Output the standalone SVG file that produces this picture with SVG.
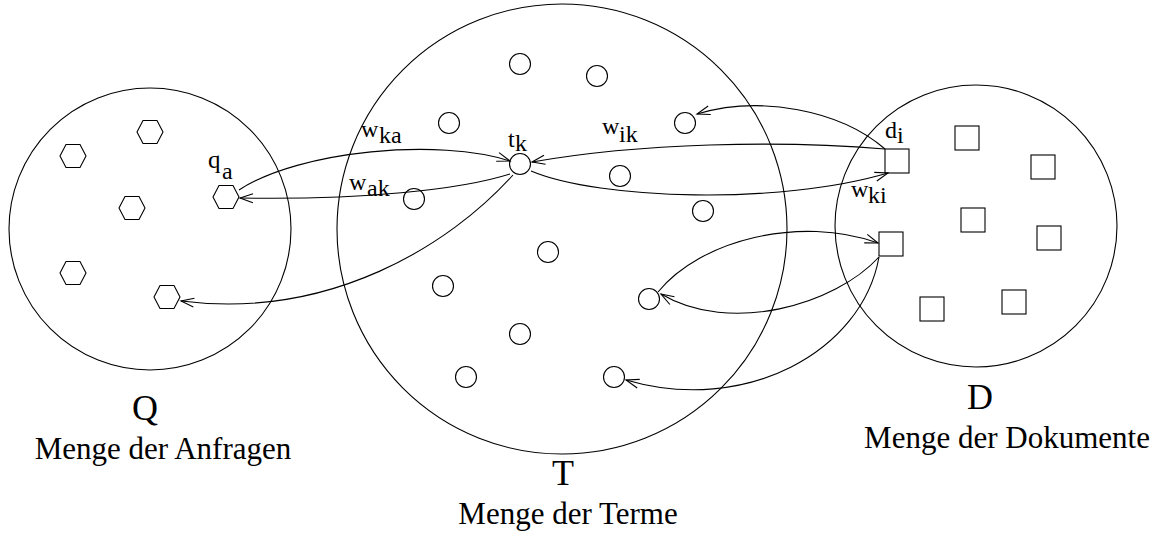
<svg xmlns="http://www.w3.org/2000/svg" xmlns:xlink="http://www.w3.org/1999/xlink" width="1160" height="541" viewBox="0 0 1160 541">
<style>
  .set { fill: none; stroke: #000; stroke-width: 1.1; }
  .el { fill: #fff; stroke: #000; stroke-width: 1.1; }
  .conn { fill: none; stroke: #000; stroke-width: 1.1; marker-end: url(#arr); }
  text { font-family: "Liberation Serif", "Times New Roman", serif; fill: #000; }
  .lbl { font-size: 24px; }
  .big { font-size: 36px; text-anchor: middle; }
  .cap { font-size: 31px; text-anchor: middle; }
</style>
<defs>
  <marker id="arr" markerUnits="userSpaceOnUse" markerWidth="14" markerHeight="10" refX="13" refY="4.5" orient="auto" overflow="visible">
    <path d="M0,0 L13,4.5 L0,9" fill="none" stroke="#000" stroke-width="1.1"/>
  </marker>
  <polygon id="hex" points="-13,0 -7,-11.5 7,-11.5 13,0 7,11.5 -7,11.5" class="el"/>
</defs>
<rect width="1160" height="541" fill="#fff"/>

<g id="set-Q">
  <circle class="set" cx="150" cy="229" r="141"/>
  <text class="big" x="145" y="420">Q</text>
  <text class="cap" x="163" y="459">Menge der Anfragen</text>
</g>
<g id="set-T">
  <circle class="set" cx="562" cy="229" r="225"/>
  <text class="big" x="563" y="485">T</text>
  <text class="cap" x="568" y="524">Menge der Terme</text>
</g>
<g id="set-D">
  <circle class="set" cx="976" cy="226" r="141"/>
  <text class="big" x="980" y="409">D</text>
  <text class="cap" x="1007" y="448">Menge der Dokumente</text>
</g>

<g id="queries">
  <g id="q1"><use xlink:href="#hex" x="150" y="132"/></g>
  <g id="q2"><use xlink:href="#hex" x="73" y="156"/></g>
  <g id="q3"><use xlink:href="#hex" x="132" y="208"/></g>
  <g id="qa"><use xlink:href="#hex" x="226" y="197"/>
    <text class="lbl" x="208" y="168" style="font-size:25px">q</text><text class="lbl" x="222" y="179">a</text></g>
  <g id="q5"><use xlink:href="#hex" x="73" y="273"/></g>
  <g id="q6"><use xlink:href="#hex" x="167" y="297"/></g>
</g>

<g id="terms">
  <g id="t1"><circle class="el" cx="520" cy="64" r="10.5"/></g>
  <g id="t2"><circle class="el" cx="597" cy="76" r="10.5"/></g>
  <g id="t3"><circle class="el" cx="449" cy="123" r="10.5"/></g>
  <g id="t4"><circle class="el" cx="685" cy="123" r="10.5"/></g>
  <g id="tk"><circle class="el" cx="520" cy="164" r="10.5"/>
    <text class="lbl" x="508" y="147">t</text><text class="lbl" x="515" y="151">k</text></g>
  <g id="t6"><circle class="el" cx="620" cy="176" r="10.5"/></g>
  <g id="t7"><circle class="el" cx="414" cy="199" r="10.5"/></g>
  <g id="t8"><circle class="el" cx="703" cy="211" r="10.5"/></g>
  <g id="t9"><circle class="el" cx="548" cy="252" r="10.5"/></g>
  <g id="t10"><circle class="el" cx="443" cy="286" r="10.5"/></g>
  <g id="t11"><circle class="el" cx="649" cy="299" r="10.5"/></g>
  <g id="t12"><circle class="el" cx="520" cy="334" r="10.5"/></g>
  <g id="t13"><circle class="el" cx="466" cy="377" r="10.5"/></g>
  <g id="t14"><circle class="el" cx="614" cy="377" r="10.5"/></g>
</g>

<g id="documents">
  <g id="di"><rect class="el" x="885" y="149" width="24" height="24"/>
    <text class="lbl" x="885" y="138">d</text><text class="lbl" x="897" y="143">i</text></g>
  <g id="d2"><rect class="el" x="955" y="126" width="24" height="24"/></g>
  <g id="d3"><rect class="el" x="1031" y="155" width="24" height="24"/></g>
  <g id="d4"><rect class="el" x="961" y="208" width="24" height="24"/></g>
  <g id="d5"><rect class="el" x="1037" y="226" width="24" height="24"/></g>
  <g id="d6"><rect class="el" x="879" y="232" width="24" height="24"/></g>
  <g id="d7"><rect class="el" x="920" y="297" width="24" height="24"/></g>
  <g id="d8"><rect class="el" x="1002" y="290" width="24" height="24"/></g>
</g>

<g id="connectors">
  <path class="conn" d="M239,190 C300,150 440,138 510,161"/>
  <path class="conn" d="M510,174 C460,190 360,200 240,198"/>
  <path class="conn" d="M513,175 C450,245 330,320 181,301"/>
  <path class="conn" d="M885,149 C780,140 640,143 532,162"/>
  <path class="conn" d="M531,171 C600,200 780,205 888,173"/>
  <path class="conn" d="M885,149 C840,110 760,95 697,114"/>
  <path class="conn" d="M658,292 C700,240 800,215 878,243"/>
  <path class="conn" d="M879,257 C835,305 730,335 661,294"/>
  <path class="conn" d="M879,257 C862,352 745,415 626,380"/>
  <g id="weights">
    <text class="lbl" x="361" y="137">w</text><text class="lbl" x="379" y="143">ka</text>
    <text class="lbl" x="349" y="190">w</text><text class="lbl" x="367" y="196">ak</text>
    <text class="lbl" x="602" y="134">w</text><text class="lbl" x="619" y="142">ik</text>
    <text class="lbl" x="851" y="197">w</text><text class="lbl" x="868" y="203">ki</text>
  </g>
</g>
</svg>
